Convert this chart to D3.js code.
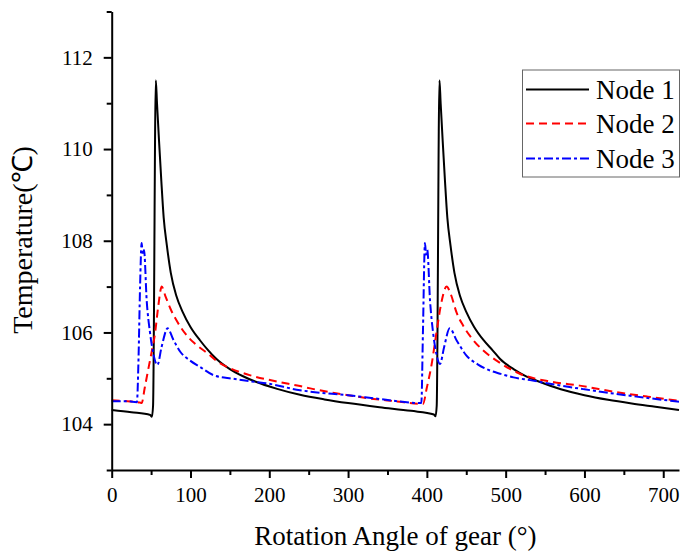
<!DOCTYPE html>
<html>
<head>
<meta charset="utf-8">
<script src="https://cdn.jsdelivr.net/npm/d3@7"></script>
<style>
    body { margin: 0; background: #fff; }
    svg text { font-family: "Liberation Serif", "Times New Roman", serif; fill: #000; }
</style>
</head>
<body>
<svg id="chart" width="682" height="556"></svg>
<script>
// rotation angle (deg) vs temperature (C)
var node1 = [[0,104.31],[25,104.26],[49,104.2],[51,104.16],[52.5,104.4],[56,111.5],[57.5,111.0],[60,110.2],
    [63,109.3],[66,108.5],[70,107.9],[75,107.3],[82,106.8],[90,106.45],[100,106.12],[112,105.83],[122,105.62],
    [133,105.42],[150,105.2],[166,105.05],[182,104.93],[210,104.77],[239,104.64],[270,104.54],[300,104.46],
    [340,104.37],[380,104.29],[409,104.21],[411,104.17],[412.5,104.4],[416,111.5],[417.5,111.0],[420,110.2],
    [423,109.3],[426,108.5],[430,107.9],[435,107.3],[442,106.8],[450,106.45],[460,106.12],[472,105.83],
    [484,105.6],[493,105.42],[510,105.2],[526,105.04],[542,104.93],[570,104.76],[600,104.63],[630,104.53],
    [660,104.45],[690,104.38],[720,104.31]];

var node2 = [[0,104.52],[20,104.5],[36,104.47],[38,104.46],[42,104.8],[47,105.25],[51,105.6],[55,105.98],
    [59,106.56],[63.5,107.0],[68,106.8],[75,106.5],[82,106.27],[97,105.9],[106,105.75],[125,105.5],
    [133,105.38],[150,105.22],[175,105.07],[210,104.93],[239,104.83],[252,104.78],[300,104.63],[323,104.57],
    [360,104.5],[394,104.44],[395,104.44],[400,104.8],[406,105.3],[412,105.98],[419,106.7],[425,107.0],
    [430,106.85],[438,106.42],[446,106.15],[459,105.83],[472,105.6],[489,105.38],[518,105.1],[560,104.92],
    [594,104.84],[640,104.7],[680,104.6],[720,104.51]];

var node3 = [[0,104.5],[20,104.5],[32,104.48],[34,105.4],[36,107.0],[38,107.95],[39.5,107.7],[41,107.8],
    [44.4,106.7],[48.6,106.0],[52.8,105.54],[58,105.29],[63.4,105.69],[71,106.09],[78,105.85],[87,105.58],
    [100,105.38],[112,105.25],[129,105.07],[154,104.99],[182,104.92],[196,104.89],[239,104.74],[252,104.71],
    [300,104.63],[340,104.55],[391,104.46],[393,104.46],[395,106.0],[397.6,107.95],[399,107.7],[400.5,107.8],
    [404,106.7],[408,105.98],[412,105.54],[416.6,105.31],[422,105.69],[429,106.09],[438,105.82],[450,105.5],
    [465,105.3],[480,105.17],[493,105.1],[510,105.02],[531,104.96],[560,104.87],[581,104.81],[600,104.76],
    [640,104.66],[680,104.57],[720,104.49]];

var seriesNames = ['Node 1', 'Node 2', 'Node 3'];
var xMajor = [0, 100, 200, 300, 400, 500, 600, 700];
var xMinor = [50, 150, 250, 350, 450, 550, 650];
var yMajor = [104, 106, 108, 110, 112];
var yMinor = [103, 105, 107, 109, 111, 113];

var svg = d3.select('#chart');
var plotLeft = 111.7, plotRight = 679, plotTop = 11.5, plotBottom = 470;

var x = d3.scaleLinear().domain([0, 720]).range([plotLeft, plotRight]);
var y = d3.scaleLinear().domain([103, 113]).range([plotBottom, plotTop]);

var styles = [
    {color: '#000', dash: null},
    {color: '#ff0000', dash: '8,5'},
    {color: '#0000ff', dash: '9,3,3,3'}
];

// curves (smoothed like the original plot)
var line = d3.line()
    .curve(d3.curveMonotoneX)
    .x(function (d) { return x(d[0]); })
    .y(function (d) { return y(d[1]); });
[node1, node2, node3].forEach(function (data, i) {
    svg.append('path')
        .datum(data)
        .attr('fill', 'none')
        .attr('stroke', styles[i].color)
        .attr('stroke-width', 2)
        .attr('stroke-dasharray', styles[i].dash)
        .attr('stroke-linejoin', 'round')
        .attr('d', line);
});

// axes
function styleAxis(g) {
    g.selectAll('line').attr('stroke', '#000').attr('stroke-width', 2);
    g.selectAll('path').attr('stroke', '#000').attr('stroke-width', 2);
    g.selectAll('text').attr('font-size', 21).attr('font-family', '"Liberation Serif", serif');
}

svg.append('g').attr('transform', 'translate(0,' + plotBottom + ')')
    .call(d3.axisBottom(x).tickValues(xMajor).tickSize(8).tickSizeOuter(0).tickPadding(9))
    .call(styleAxis);
svg.append('g').attr('transform', 'translate(0,' + plotBottom + ')')
    .call(d3.axisBottom(x).tickValues(xMinor).tickSize(5).tickFormat(''))
    .call(styleAxis)
    .select('.domain').remove();

svg.append('g').attr('transform', 'translate(' + plotLeft + ',0)')
    .call(d3.axisLeft(y).tickValues(yMajor).tickSize(8).tickSizeOuter(0).tickPadding(11))
    .call(styleAxis);
svg.append('g').attr('transform', 'translate(' + plotLeft + ',0)')
    .call(d3.axisLeft(y).tickValues(yMinor).tickSize(5).tickFormat(''))
    .call(styleAxis)
    .select('.domain').remove();

// axis titles
svg.append('text')
    .attr('x', (plotLeft + plotRight) / 2)
    .attr('y', 545)
    .attr('text-anchor', 'middle')
    .attr('font-size', 27)
    .text('Rotation Angle of gear (°)');

svg.append('text')
    .attr('transform', 'translate(32,240) rotate(-90)')
    .attr('text-anchor', 'middle')
    .attr('font-size', 28)
    .text('Temperature(℃)');

// legend
var legend = svg.append('g');
legend.append('rect')
    .attr('x', 522.5).attr('y', 70)
    .attr('width', 157).attr('height', 107)
    .attr('fill', '#fff')
    .attr('stroke', '#666')
    .attr('stroke-width', 1);

var rowY = [89.5, 123.5, 158.5];
seriesNames.forEach(function (name, i) {
    legend.append('line')
        .attr('x1', 526).attr('x2', 589)
        .attr('y1', rowY[i]).attr('y2', rowY[i])
        .attr('stroke', styles[i].color)
        .attr('stroke-width', 2)
        .attr('stroke-dasharray', styles[i].dash);
    legend.append('text')
        .attr('x', 596)
        .attr('y', rowY[i] + 9)
        .attr('font-size', 27)
        .text(name);
});
</script>
</body>
</html>
